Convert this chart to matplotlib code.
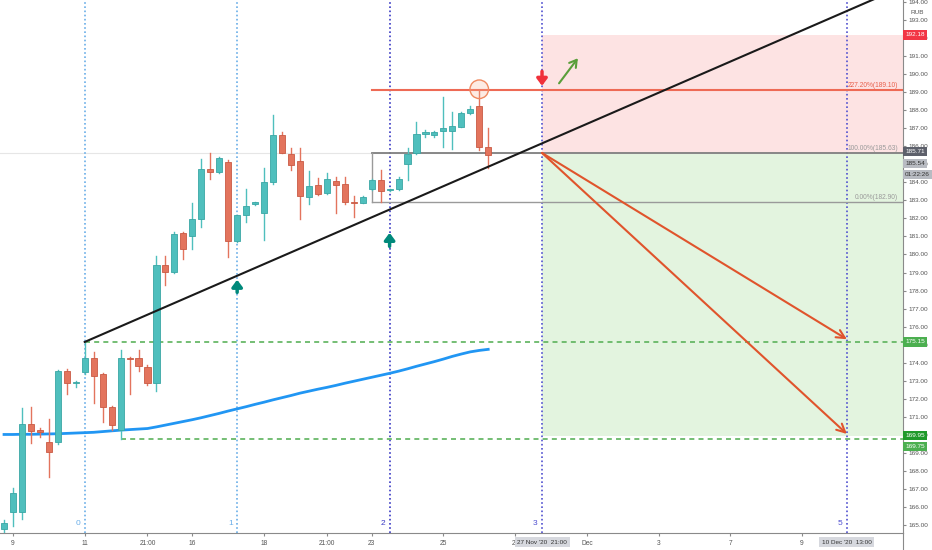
import matplotlib
matplotlib.use("Agg")
import matplotlib.pyplot as plt
from matplotlib.patches import Rectangle, Ellipse
from matplotlib.lines import Line2D

plt.rcParams["font.family"] = ["Liberation Sans", "DejaVu Sans"]

# candles (4 per trading day)
opens = [164.8, 165.72, 165.70, 170.58, 170.25, 169.62, 169.62, 173.54, 172.88, 173.50,
         174.24, 173.38, 171.56, 170.27, 174.24, 174.24, 173.78, 172.90, 179.42, 179.01,
         181.17, 181.04, 181.97, 184.74, 184.59, 185.11, 180.76, 182.19, 182.79, 182.28,
         184.00, 186.62, 185.57, 185.20, 183.20, 183.84, 183.39, 184.10, 183.90, 182.93,
         182.84, 183.63, 184.13, 183.57, 183.61, 185.02, 185.61, 186.67, 186.62, 186.85,
         186.87, 187.08, 187.83, 188.25, 185.94]
highs = [165.3, 167.05, 171.47, 171.53, 170.36, 170.86, 173.60, 173.63, 172.97, 175.15,
         174.57, 173.45, 171.60, 174.70, 174.30, 174.70, 173.87, 179.92, 179.92, 181.26,
         181.23, 182.84, 185.29, 185.60, 185.39, 185.24, 182.20, 183.63, 182.93, 184.78,
         187.73, 186.80, 185.89, 185.89, 184.64, 184.22, 184.50, 184.30, 184.30, 183.24,
         183.26, 184.20, 184.68, 183.63, 184.28, 185.89, 187.33, 186.90, 186.82, 188.75,
         187.92, 187.92, 188.23, 189.10, 186.99]
lows = [164.6, 164.95, 165.32, 169.56, 169.86, 167.68, 169.50, 172.26, 172.63, 173.40,
        171.75, 170.73, 170.27, 169.75, 172.27, 173.56, 172.76, 172.45, 178.30, 179.00,
        179.73, 180.30, 181.50, 184.18, 184.50, 179.88, 180.70, 181.79, 182.74, 180.80,
        183.90, 185.60, 184.68, 181.95, 182.80, 183.30, 183.35, 182.32, 182.80, 182.10,
        182.84, 183.60, 182.90, 183.54, 183.60, 184.13, 185.55, 186.53, 186.50, 185.98,
        185.85, 187.05, 187.80, 185.80, 184.78]
closes = [165.1, 166.77, 170.58, 170.23, 170.14, 169.03, 173.54, 172.86, 172.95, 174.24,
          173.28, 171.53, 170.55, 174.24, 174.18, 173.82, 172.90, 179.42, 179.01, 181.12,
          180.30, 181.97, 184.74, 184.59, 185.33, 180.76, 182.19, 182.70, 182.90, 184.00,
          186.62, 185.61, 184.96, 183.24, 183.80, 183.38, 184.19, 183.85, 182.90, 182.87,
          183.20, 184.13, 183.54, 183.63, 184.19, 185.57, 186.68, 186.78, 186.81, 187.03,
          187.12, 187.86, 188.05, 185.94, 185.54]

# moving average (blue)
ma = [170.02, 170.02, 170.03, 170.03, 170.04, 170.05, 170.06, 170.08, 170.10, 170.12,
      170.14, 170.18, 170.22, 170.26, 170.29, 170.32, 170.35, 170.44, 170.54, 170.64,
      170.74, 170.84, 170.95, 171.07, 171.19, 171.32, 171.44, 171.56, 171.69, 171.81,
      171.94, 172.06, 172.18, 172.31, 172.42, 172.53, 172.63, 172.74, 172.86, 172.97,
      173.08, 173.19, 173.30, 173.41, 173.53, 173.66, 173.80, 173.93, 174.06, 174.20,
      174.35, 174.48, 174.60, 174.68, 174.74]

tick_pos = [1, 9, 16, 21, 29, 36, 41, 49, 57, 65, 73, 81, 89]
tick_txt = ["9", "11", "21:00", "16", "18", "21:00", "23", "25", "27", "Dec", "3", "7", "9"]

# drawings
trend_a = (9, 175.15)
trend_b = (60, 186.16)
fib_start = 41
fib_levels = [189.10, 185.63, 182.90]
fib_text = ["227.20%(189.10)", "100.00%(185.63)", "0.00%(182.90)"]
entry_x = 60
entry = 185.63
stop = 192.18
target_bottom = 169.95
support_hi = 175.15
support_lo = 169.75
arrow_end_x = 94
arrow_ends = [175.30, 170.05]
vlines_x = [9, 26, 43, 60, 94]
vlines_lbl = ["0", "1", "2", "3", "5"]
up_arrows = [(26, 177.9, 178.6), (43, 180.45, 181.2)]

up_col = "#4fbfbd"
dn_col = "#e3745d"

fig = plt.figure(figsize=(9.32, 5.5), dpi=100)
ax = fig.add_axes([0, 17 / 550, 903 / 932, 533 / 550])
xmin, xmax = -0.45, 100.26
ax.set_xlim(xmin, xmax)
ax.set_ylim(164.557, 194.109)

# long/short position box
ax.add_patch(Rectangle((entry_x, entry), xmax - entry_x, stop - entry,
                       facecolor="#fde3e3", edgecolor="none", zorder=0))
ax.add_patch(Rectangle((entry_x, target_bottom), xmax - entry_x, entry - target_bottom,
                       facecolor="#e3f4df", edgecolor="none", zorder=0))

ax.axhline(entry, color="#e6e6e6", lw=0.8, zorder=0.5)

# vertical dotted lines
vcols = ["#6aaee8", "#6aaee8", "#3a3ac4", "#5050d0", "#5050d0"]
for x, lbl, c in zip(vlines_x, vlines_lbl, vcols):
    ax.axvline(x, color=c, lw=1.2, ls=(0, (1, 1.5)), zorder=1)
    ax.text(x - 0.5, 0.012, lbl, transform=ax.get_xaxis_transform(), color=c,
            fontsize=6, ha="right", va="bottom")

# green dashed levels
ax.plot([trend_a[0], xmax], [support_hi, support_hi], color="#5cb35c", lw=1.2,
        ls=(0, (3, 2.5)), zorder=2)
ax.plot([13, xmax], [support_lo, support_lo], color="#5cb35c", lw=1.2,
        ls=(0, (3, 2.5)), zorder=2)

# fib retracement
ax.plot([fib_start, xmax], [fib_levels[0]] * 2, color="#ee6a55", lw=1.5, zorder=2)
ax.plot([fib_start, xmax], [fib_levels[1]] * 2, color="#7f7f7f", lw=1.3, zorder=2)
ax.plot([fib_start, xmax], [fib_levels[2]] * 2, color="#9a9a9a", lw=1.0, zorder=2)
ax.plot([fib_start, fib_start], [fib_levels[2], fib_levels[1]], color="#9a9a9a", lw=1.0, zorder=2)
for lvl, t, c in zip(fib_levels, fib_text, ["#e8604c", "#9a9a9a", "#9a9a9a"]):
    ax.annotate(t, xy=(99.7, lvl), xytext=(0, 1), textcoords="offset points",
                color=c, fontsize=4.8, ha="right", va="bottom", zorder=3)

# moving average
ax.plot(range(len(ma)), ma, color="#2196f3", lw=2, zorder=3)

# candles
for i in range(len(opens)):
    col = up_col if closes[i] >= opens[i] else dn_col
    edge = "#3aa6a4" if closes[i] >= opens[i] else "#c95a44"
    ax.plot([i, i], [lows[i], highs[i]], color=col, lw=1, zorder=4)
    lo = min(opens[i], closes[i])
    h = max(abs(closes[i] - opens[i]), 0.05)
    ax.add_patch(Rectangle((i - 0.34, lo), 0.68, h, facecolor=col, edgecolor=edge,
                           lw=0.6, zorder=5))

# trend line
slope = (trend_b[1] - trend_a[1]) / (trend_b[0] - trend_a[0])
ax.plot([trend_a[0], xmax], [trend_a[1], trend_a[1] + slope * (xmax - trend_a[0])],
        color="#1a1a1a", lw=1.5, zorder=6)

# projected arrows
for y in arrow_ends:
    ax.annotate("", xy=(arrow_end_x, y), xytext=(entry_x, entry),
                arrowprops=dict(arrowstyle="->,head_length=0.6,head_width=0.3",
                                color="#e0542c", lw=1.5, shrinkA=0, shrinkB=0), zorder=6)

ax.annotate("", xy=(64.0, 190.88), xytext=(61.9, 189.49),
            arrowprops=dict(arrowstyle="->,head_length=0.5,head_width=0.3",
                            color="#5a9e3a", lw=1.5, shrinkA=0, shrinkB=0), zorder=6)
ax.annotate("", xy=(entry_x, 189.35), xytext=(entry_x, 190.15),
            arrowprops=dict(arrowstyle="-|>,head_length=0.4,head_width=0.3",
                            color="#f0303a", lw=2.5, shrinkA=0, shrinkB=0), zorder=6)
for x, y0, y1 in up_arrows:
    ax.annotate("", xy=(x, y1), xytext=(x, y0),
                arrowprops=dict(arrowstyle="-|>,head_length=0.4,head_width=0.3",
                                color="#00897b", lw=2.5, shrinkA=0, shrinkB=0), zorder=6)

ax.add_patch(Ellipse((53, 189.16), 2.07, 1.03, facecolor="#f8b090", alpha=0.25,
                     edgecolor="none", zorder=6))
ax.add_patch(Ellipse((53, 189.16), 2.07, 1.03, facecolor="none",
                     edgecolor="#f08a60", lw=1, zorder=6))

# axes styling
for s in ["top", "left"]:
    ax.spines[s].set_visible(False)
ax.spines["right"].set_color("#8a8a8a")
ax.spines["bottom"].set_color("#8a8a8a")
ax.yaxis.tick_right()
ax.set_yticks(range(165, 195))
ax.set_yticklabels([f"{v:.2f}" for v in range(165, 195)])
ax.tick_params(axis="y", labelsize=4.6, labelcolor="#555555", color="#8a8a8a",
               length=2.5, pad=1.5)
ax.set_xticks(tick_pos)
ax.set_xticklabels(tick_txt)
ax.tick_params(axis="x", labelsize=4.8, labelcolor="#555555", color="#8a8a8a",
               length=2, pad=3)
fig.add_artist(Line2D([903 / 932, 903 / 932], [0, 17 / 550], color="#8a8a8a", lw=0.8))
fig.text(917 / 932, 1 - 12 / 550, "RUB", fontsize=4.6, color="#555555", ha="center", va="center")

# price labels on the scale
tags = [("192.18", stop, 0, "#f23645", "white"),
        ("185.71", 185.71, 0, "#5d606b", "white"),
        ("185.54", 185.54, -6.5, "#b8bbc2", "#333333"),
        ("01:22:26", 185.54, -14.5, "#b8bbc2", "#333333"),
        ("175.15", support_hi, 0, "#4caf50", "white"),
        ("169.95", target_bottom, 0, "#1f9a2a", "white"),
        ("169.75", support_lo, -5, "#4caf50", "white")]
for t, y, dy, bg, fg in tags:
    ax.annotate(t, xy=(1, y), xycoords=ax.get_yaxis_transform(), xytext=(1.5, dy),
                textcoords="offset points", fontsize=4.6, color=fg, ha="left", va="center",
                bbox=dict(boxstyle="square,pad=0.35", fc=bg, ec="none"),
                annotation_clip=False, zorder=10)

for x, t in [(60, "27 Nov '20  21:00"), (94, "10 Dec '20  13:00")]:
    ax.annotate(t, xy=(x, 0), xycoords=ax.get_xaxis_transform(), xytext=(0, -6.5),
                textcoords="offset points", fontsize=4.6, color="#333333",
                ha="center", va="center",
                bbox=dict(boxstyle="square,pad=0.4", fc="#d6d8de", ec="none"),
                annotation_clip=False, zorder=10)

fig.savefig("out.png", dpi=100)
